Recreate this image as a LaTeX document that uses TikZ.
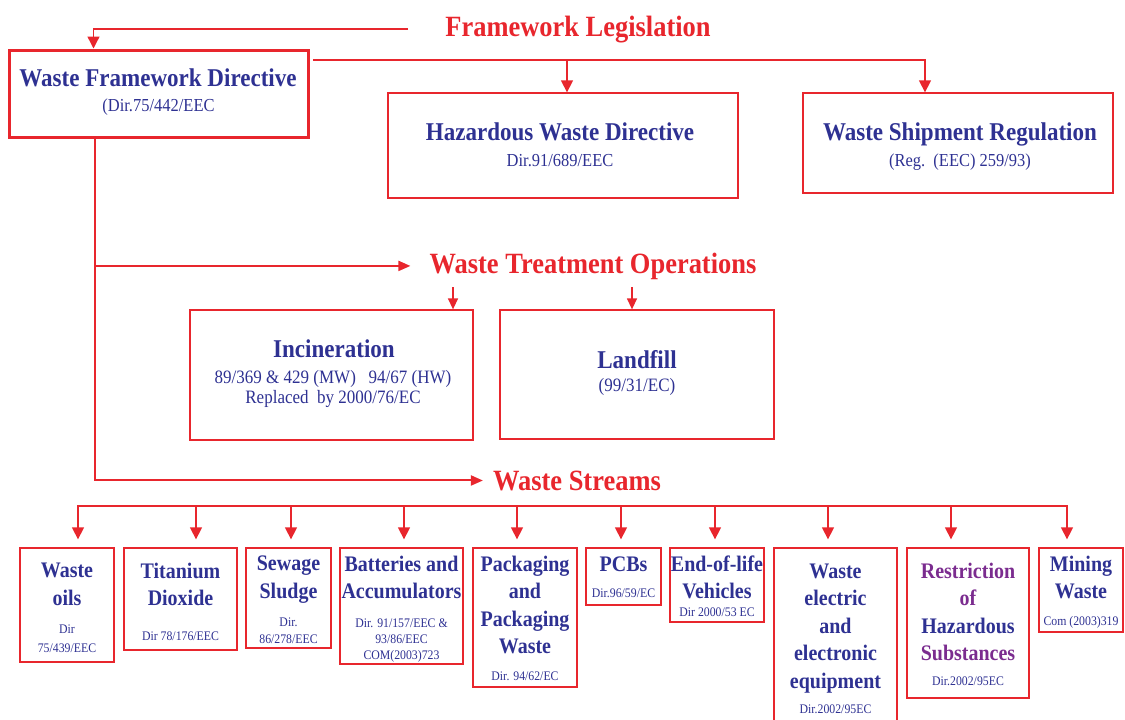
\documentclass[tikz,border=0pt]{standalone}
\usepackage{fontspec}
\setmainfont{Liberation Serif}[FakeStretch=0.9]
\usetikzlibrary{arrows.meta}
\definecolor{rd}{HTML}{E8262D}
\definecolor{bl}{HTML}{2E3192}
\definecolor{pu}{HTML}{7B2C8F}
\begin{document}
\begin{tikzpicture}[x=1pt,y=-1pt,
  box/.style={draw=rd, line width=1.3pt, inner sep=0pt},
  hdr/.style={text=rd, font=\fontsize{29.4}{33}\selectfont\bfseries, inner sep=0pt, anchor=base},
  bigt/.style={text=bl, font=\fontsize{25.6}{30}\selectfont\bfseries, inner sep=0pt, anchor=base},
  bigs/.style={text=bl, font=\fontsize{18.3}{21}\selectfont, inner sep=0pt, anchor=base},
  tt/.style={text=bl, font=\fontsize{22.2}{27.5}\selectfont\bfseries, align=center, inner sep=0pt},
  ts/.style={text=bl, font=\fontsize{13.1}{15.7}\selectfont, align=center, inner sep=0pt},
  ln/.style={draw=rd, line width=1.4pt},
  arr/.style={ln, -{Triangle[width=12pt,length=12pt]}},
  arrs/.style={ln, -{Triangle[width=10pt,length=11pt]}},
  arrh/.style={draw=rd, line width=2pt, -{Triangle[width=10pt,length=12pt]}}
]
\useasboundingbox (0,0) rectangle (1125,720);
\clip (0,0) rectangle (1125,720);

% headers
\node[hdr] (fl)  at (578,36)  {Framework Legislation};
\node[hdr] (wto) at (593,273) {Waste Treatment Operations};
\node[hdr] (ws)  at (577,490) {Waste Streams};

% top boxes
\node[box, line width=3pt, minimum width=299pt, minimum height=87pt] (wfd) at (158.5,93.5) {};
\node[bigt] (wfdt) at (158,86)  {Waste Framework Directive};
\node[bigs] (wfds) at (158.5,111.5) {(Dir.75/442/EEC};

\node[box, minimum width=350pt, minimum height=105pt] (hwd) at (563,145.5) {};
\node[bigt] (hwdt) at (560,140) {Hazardous Waste Directive};
\node[bigs] (hwds) at (560,166) {Dir.91/689/EEC};

\node[box, minimum width=310pt, minimum height=100pt] (wsr) at (958,143) {};
\node[bigt] (wsrt) at (960,140) {Waste Shipment Regulation};
\node[bigs] (wsrs) at (960,166) {(Reg.~~(EEC) 259/93)};

% treatment boxes
\node[box, minimum width=283pt, minimum height=130pt] (inc) at (331.5,375) {};
\node[bigt] (inct) at (334,357) {Incineration};
\node[bigs, font=\fontsize{18.9}{21}\selectfont] (incs1) at (333,383) {89/369 \& 429 (MW)~~~94/67 (HW)};
\node[bigs, font=\fontsize{18.9}{21}\selectfont] (incs2) at (333,403) {Replaced~~by 2000/76/EC};

\node[box, minimum width=274pt, minimum height=129pt] (lan) at (637,374.5) {};
\node[bigt] (lant) at (637,368) {Landfill};
\node[bigs, font=\fontsize{18.9}{21}\selectfont] (lans) at (637,391) {(99/31/EC)};

% waste stream boxes
\node[box, minimum width=94pt,  minimum height=114pt] (b1)  at (67,605) {};
\node[box, minimum width=113pt, minimum height=102pt] (b2)  at (180.5,599) {};
\node[box, minimum width=85pt,  minimum height=100pt] (b3)  at (288.5,598) {};
\node[box, minimum width=123pt, minimum height=116pt] (b4)  at (401.5,606) {};
\node[box, minimum width=104pt, minimum height=139pt] (b5)  at (525,617.5) {};
\node[box, minimum width=75pt,  minimum height=57pt]  (b6)  at (623.5,576.5) {};
\node[box, minimum width=94pt,  minimum height=74pt]  (b7)  at (717,585) {};
\node[box, minimum width=123pt, minimum height=187pt] (b8)  at (835.5,641.5) {};
\node[box, minimum width=122pt, minimum height=150pt] (b9)  at (968,623) {};
\node[box, minimum width=84pt,  minimum height=84pt]  (b10) at (1081,590) {};

\node[tt] (b1t) at (67,584.5) {Waste\\oils};
\node[ts] (b1s) at (67,638.5) {Dir\\[2.8pt]75/439/EEC};
\node[tt] (b2t) at (180.5,584.5) {Titanium\\Dioxide};
\node[ts, anchor=base] (b2s) at (180.5,640) {Dir 78/176/EEC};
\node[tt] (b3t) at (288.5,579.5) {Sewage\\Sludge};
\node[ts] (b3s) at (288.5,631) {Dir.\\[1.6pt]86/278/EEC};
\node[tt] (b4t) at (401.5,577.3) {Batteries and\\Accumulators};
\node[ts] (b4s) at (401.5,640.5) {Dir. 91/157/EEC \&\\93/86/EEC\\COM(2003)723};
\node[tt] (b5t) at (525,604.8) {Packaging\\and\\Packaging\\Waste};
\node[ts, anchor=base] (b5s) at (525,680.5) {Dir. 94/62/EC};
\node[tt, anchor=base] (b6t) at (623.5,571) {PCBs};
\node[ts, anchor=base] (b6s) at (623.5,597.3) {Dir.96/59/EC};
\node[tt] (b7t) at (717,577.3) {End-of-life\\Vehicles};
\node[ts, anchor=base] (b7s) at (717,616) {Dir 2000/53 EC};
\node[tt] (b8t) at (835.5,628.2) {Waste\\electric\\and\\electronic\\equipment};
\node[ts, anchor=base] (b8s) at (835.5,713.3) {Dir.2002/95EC};
\node[tt] (b9t) at (968,612.1) {\textcolor{pu}{Restriction}\\\textcolor{pu}{of}\\Hazardous\\\textcolor{pu}{Substances}};
\node[ts, anchor=base] (b9s) at (968,685.7) {Dir.2002/95EC};
\node[tt] (b10t) at (1081,577.3) {Mining\\Waste};
\node[ts, anchor=base] (b10s) at (1081,625.7) {Com (2003)319};

% connectors: framework legislation
\draw[arr] ([xshift=-37pt]fl.west) -| ([xshift=86pt]wfd.north west);
\coordinate (tb) at (313,60);
\draw[arr] (tb) -| ([xshift=4pt]hwd.north);
\draw[arr] (tb) -| ([xshift=-33pt]wsr.north);

% trunk
\draw[arrh] ([xshift=-63.5pt]wfd.south) |- ([xshift=-10pt]ws.west);
\draw[arrh] ([xshift=-63.5pt]wfd.south |- wto.west) -- ([xshift=-19pt]wto.west);

% treatment arrows
\draw[arrs] ([xshift=121.5pt,yshift=22pt]inc.north) -- ([xshift=121.5pt]inc.north);
\draw[arrs] ([xshift=-5pt,yshift=22pt]lan.north) -- ([xshift=-5pt]lan.north);

% waste stream bus
\coordinate (busW) at (78,506);
\coordinate (busE) at (1067,506);
\draw[ln] (busW) -- (busE);
\foreach \b/\s in {b1/11,b2/15.5,b3/2.5,b4/2.5,b5/-8,b6/-2.5,b7/-2,b8/-7.5,b9/-17,b10/-14}
  \draw[arr] ([xshift=\s pt,yshift=42pt]\b.north) -- ([xshift=\s pt,yshift=8pt]\b.north);
\end{tikzpicture}
\end{document}
